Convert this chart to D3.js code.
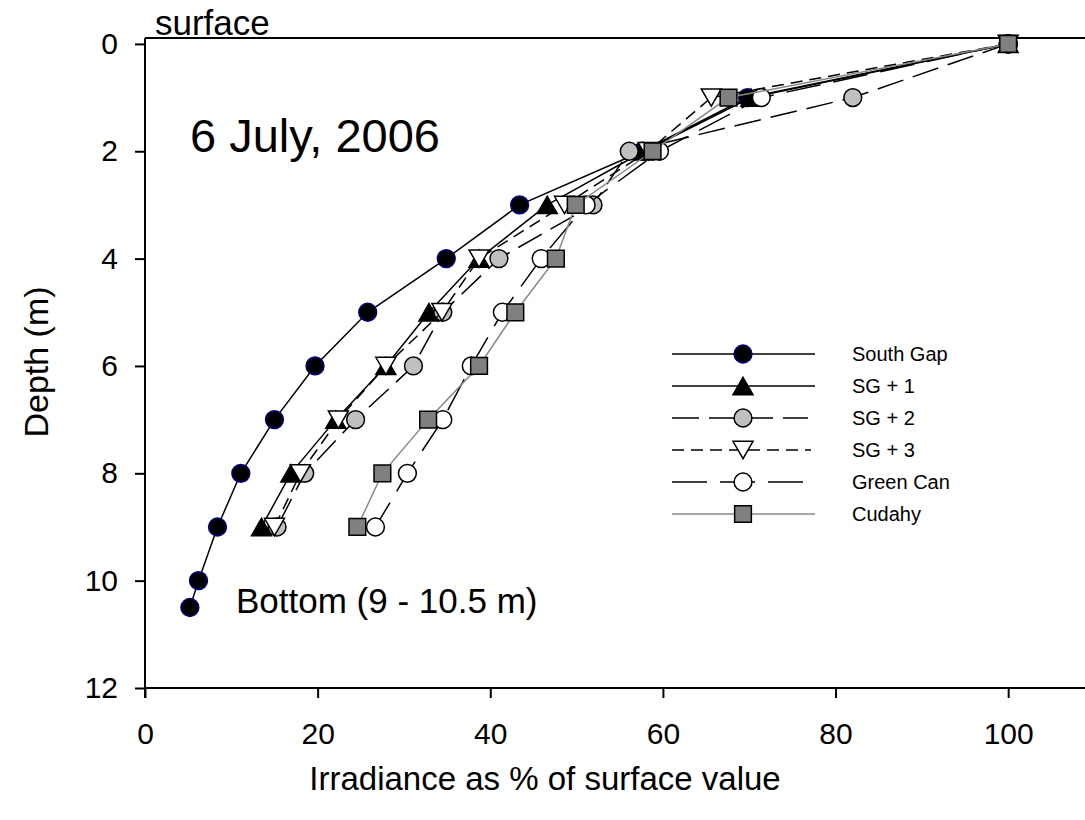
<!DOCTYPE html>
<html>
<head>
<meta charset="utf-8">
<script src="https://cdnjs.cloudflare.com/ajax/libs/d3/7.8.5/d3.min.js"></script>
<style>
  body { margin: 0; background: #fff; }
  svg text { font-family: "Liberation Sans", Arial, sans-serif; fill: #000; }
</style>
</head>
<body>
<div id="chart"></div>
<script>
// depth (m) of each reading
var depths = [0, 1, 2, 3, 4, 5, 6, 7, 8, 9];
var southGapDepths = [0, 1, 2, 3, 4, 5, 6, 7, 8, 9, 10, 10.5];

// irradiance as % of surface value
var southGap = [100, 69.8, 57.6, 43.4, 34.9, 25.8, 19.7, 15.0, 11.1, 8.4, 6.2, 5.2];
var sg1      = [100, 70.2, 57.8, 46.6, 38.7, 32.9, 27.9, 22.1, 16.9, 13.5];
var sg2      = [100, 82.0, 56.1, 51.9, 41.0, 34.5, 31.1, 24.4, 18.5, 15.3];
var sg3      = [100, 65.6, 58.3, 48.6, 38.7, 34.4, 27.9, 22.4, 18.0, 15.0];
var greenCan = [100, 71.4, 59.6, 51.1, 45.9, 41.4, 37.8, 34.5, 30.4, 26.7];
var cudahy   = [100, 67.6, 58.8, 49.9, 47.6, 42.9, 38.7, 32.8, 27.5, 24.6];

var seriesNames = ["South Gap", "SG + 1", "SG + 2", "SG + 3", "Green Can", "Cudahy"];
var xTicks = [0, 20, 40, 60, 80, 100];
var yTicks = [0, 2, 4, 6, 8, 10, 12];

var W = 1085, H = 820;
var mLeft = 145, mRight = 1085, mTop = 38, mBottom = 688;

var svg = d3.select("#chart").append("svg")
    .attr("width", W).attr("height", H);

var x = d3.scaleLinear().domain([0, 108.9]).range([mLeft, mRight]);
var y = d3.scaleLinear().domain([-0.11, 12]).range([mTop, mBottom]);

// styles per series (legEnd = where the legend sample line stops)
var styles = [
    {line: "#000", dash: null, shape: "circle", fill: "#000", stroke: "#000080", legEnd: 815},
    {line: "#000", dash: null, shape: "triUp", fill: "#000", stroke: "#000", legEnd: 815},
    {line: "#000", dash: "27,10", shape: "circle", fill: "#c0c0c0", stroke: "#000", legEnd: 808},
    {line: "#000", dash: "12,7", shape: "triDown", fill: "#fff", stroke: "#000", legEnd: 811},
    {line: "#000", dash: "35,13", shape: "circle", fill: "#fff", stroke: "#000", legEnd: 803},
    {line: "#888", dash: null, shape: "square", fill: "#808080", stroke: "#000", legEnd: 815}
];

var seriesData = [
    {vals: southGap, deps: southGapDepths},
    {vals: sg1, deps: depths},
    {vals: sg2, deps: depths},
    {vals: sg3, deps: depths},
    {vals: greenCan, deps: depths},
    {vals: cudahy, deps: depths}
];

function markerPath(shape) {
    if (shape == "circle") return d3.symbol(d3.symbolCircle, 250)();
    if (shape == "square") return d3.symbol(d3.symbolSquare, 280)();
    // triangle drawn around its centre
    var s = 20, h = s * Math.sqrt(3) / 2;
    return "M0," + (-h / 2) + "L" + (s / 2) + "," + (h / 2) + "L" + (-s / 2) + "," + (h / 2) + "Z";
}

function drawMarker(g, st, px, py) {
    g.append("path")
        .attr("d", markerPath(st.shape))
        .attr("transform", "translate(" + px + "," + py + ")" + (st.shape == "triDown" ? " rotate(180)" : ""))
        .attr("fill", st.fill)
        .attr("stroke", st.stroke)
        .attr("stroke-width", 1.5);
}

// axes
var xAxis = d3.axisBottom(x).tickValues(xTicks).tickSize(10).tickSizeOuter(0).tickPadding(25);
var yAxis = d3.axisLeft(y).tickValues(yTicks).tickSize(10).tickSizeOuter(0).tickPadding(17);

var gx = svg.append("g").attr("transform", "translate(0," + mBottom + ")").call(xAxis);
var gy = svg.append("g").attr("transform", "translate(" + mLeft + ",0)").call(yAxis);
[gx, gy].forEach(function(g) {
    g.select(".domain").remove();
    g.selectAll(".tick line").attr("stroke", "#000").attr("stroke-width", 2);
    g.selectAll(".tick text").style("font-size", "30px").attr("fill", "#000");
});

// frame (left, top, bottom)
svg.append("line").attr("x1", mLeft).attr("x2", mRight).attr("y1", mTop).attr("y2", mTop)
    .attr("stroke", "#000").attr("stroke-width", 2);
svg.append("line").attr("x1", mLeft).attr("x2", mRight).attr("y1", mBottom).attr("y2", mBottom)
    .attr("stroke", "#000").attr("stroke-width", 2);
svg.append("line").attr("x1", mLeft).attr("x2", mLeft).attr("y1", mTop).attr("y2", mBottom + 10)
    .attr("stroke", "#000").attr("stroke-width", 2);

// series
var line = d3.line()
    .x(function(d) { return x(d[0]); })
    .y(function(d) { return y(d[1]); });

seriesData.forEach(function(s, i) {
    var st = styles[i];
    var pts = s.vals.map(function(v, j) { return [v, s.deps[j]]; });
    var g = svg.append("g");
    g.append("path")
        .datum(pts)
        .attr("d", line)
        .attr("fill", "none")
        .attr("stroke", st.line)
        .attr("stroke-width", 1.5)
        .attr("stroke-dasharray", st.dash);
    pts.forEach(function(p) { drawMarker(g, st, x(p[0]), y(p[1])); });
});

// legend
var legend = svg.append("g");
seriesNames.forEach(function(name, i) {
    var st = styles[i];
    var ly = 354 + i * 32;
    legend.append("line")
        .attr("x1", 672).attr("x2", st.legEnd).attr("y1", ly).attr("y2", ly)
        .attr("stroke", st.line).attr("stroke-width", 1.5)
        .attr("stroke-dasharray", st.dash);
    drawMarker(legend, st, 743, ly);
    legend.append("text")
        .attr("x", 852).attr("y", ly + 7)
        .style("font-size", "20px")
        .text(name);
});

// annotations
svg.append("text").attr("x", 155).attr("y", 35).style("font-size", "35px").text("surface");
svg.append("text").attr("x", 190).attr("y", 152).style("font-size", "47px").text("6 July, 2006");
svg.append("text").attr("x", 236).attr("y", 613).style("font-size", "35px").text("Bottom (9 - 10.5 m)");

// axis titles
svg.append("text")
    .attr("x", 545).attr("y", 790)
    .attr("text-anchor", "middle")
    .style("font-size", "33px")
    .text("Irradiance as % of surface value");
svg.append("text")
    .attr("transform", "translate(48,362) rotate(-90)")
    .attr("text-anchor", "middle")
    .style("font-size", "34px")
    .text("Depth (m)");
</script>
</body>
</html>
